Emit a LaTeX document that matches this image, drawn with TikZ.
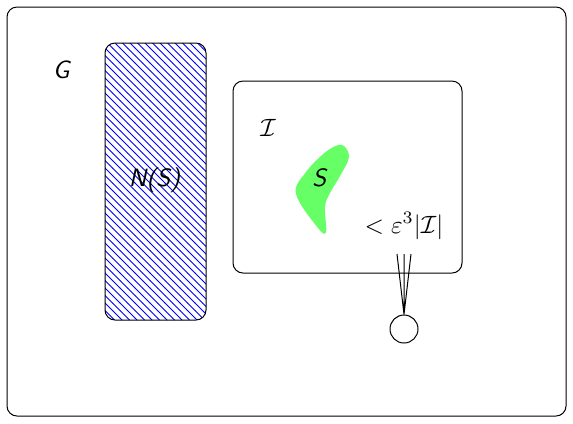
\documentclass[tikz,border=0pt]{standalone}
\usepackage{tkz-euclide}
\usetikzlibrary{patterns}

\tikzset{
  box/.style={draw, rounded corners=4pt},
  vertex/.style={draw, circle, minimum size=11.2pt, inner sep=0pt},
}

\begin{document}
\begin{tikzpicture}[x=0.4pt,y=-0.4pt]
    \useasboundingbox (0,0) rectangle (573,423);
    \tkzDefPoints{7/7/G1,566/416/G2}
    \tkzDefPoints{105/43/N1,206/320/N2}
    \tkzDefPoints{233/81/I1,462/273/I2}
    \tkzDefPoints{397/254/T1,404/254/T2,411/254/T3}
    % frames
    \draw[box] (G1) rectangle (G2);
    \draw[box, pattern=north west lines, pattern color=blue] (N1) rectangle (N2);
    \draw[box] (I1) rectangle (I2);
    % the set S
    \fill[green!60] plot[smooth cycle, tension=0.6] coordinates
        {(342,145) (349,157) (340,176) (330,193) (325,207) (326,232)
         (318,228) (296,194) (306,172) (327,151)};
    % labels
    \node (lG) at (62,70) {\textsf{\textit{G}}};
    \node (lN) at (155,180) {\textsf{\textit{N(S)}}};
    \node (lI) at (268,128) {$\mathcal{I}$};
    \node (lS) at (320,178) {\textsf{\textit{S}}};
    \node (lE) at (404,226) {$<\varepsilon^3|\mathcal{I}|$};
    % the vertex and its edges
    \node[vertex] (v) at (404,329) {};
    \draw (v.north) -- (T1) (v.north) -- (T2) (v.north) -- (T3);
\end{tikzpicture}
\end{document}
